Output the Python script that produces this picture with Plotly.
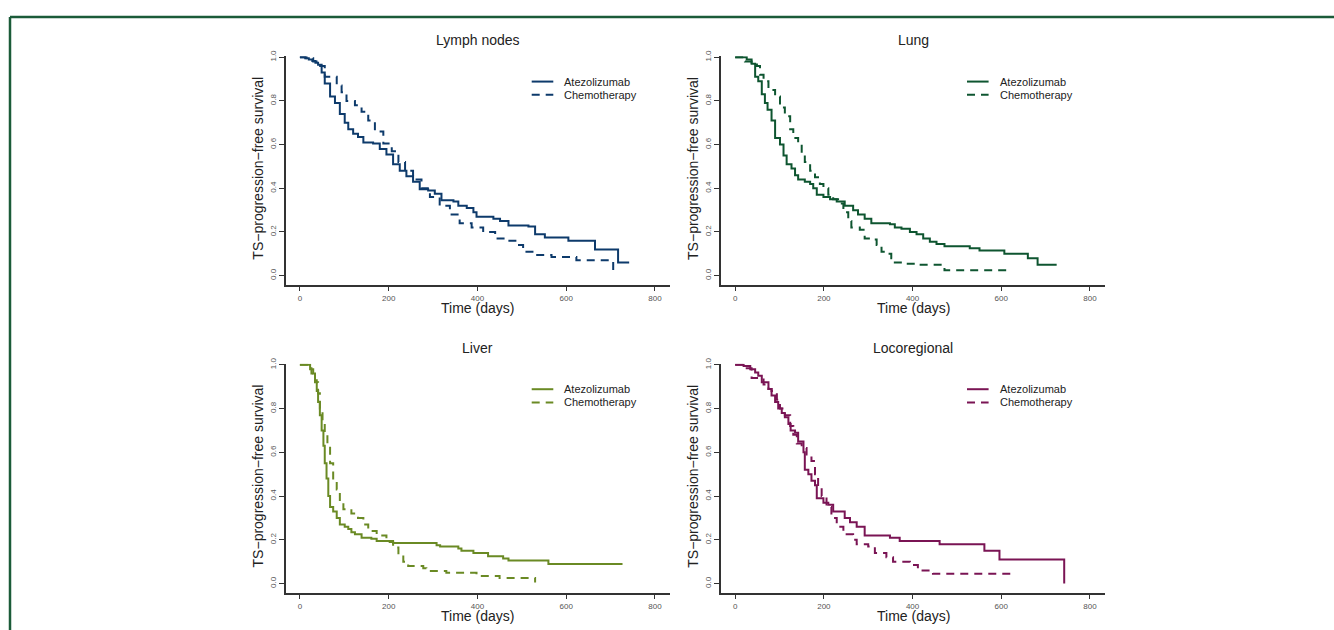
import plotly.graph_objects as go

# ---- Kaplan-Meier step data (time in days, survival after the step) ----
lymph_atezo_t = [0, 12, 20, 28, 35, 41, 49, 56, 68, 79, 90, 101, 109, 120, 131, 143, 165, 180, 195, 210, 225,
                 240, 255, 270, 289, 304, 319, 346, 357, 376, 391, 398, 436, 451, 470, 515, 530, 552, 605, 665,
                 717, 742]
lymph_atezo_s = [1.0, 0.995, 0.99, 0.983, 0.975, 0.965, 0.93, 0.88, 0.82, 0.79, 0.74, 0.70, 0.67, 0.65, 0.635,
                 0.61, 0.605, 0.58, 0.555, 0.51, 0.48, 0.455, 0.43, 0.395, 0.39, 0.375, 0.345, 0.34, 0.32, 0.31,
                 0.29, 0.27, 0.26, 0.25, 0.23, 0.225, 0.19, 0.175, 0.16, 0.12, 0.06, 0.06]
lymph_chemo_t = [0, 15, 30, 41, 56, 83, 94, 105, 124, 139, 154, 169, 188, 207, 222, 237, 255, 274, 293, 315,
                 338, 360, 387, 413, 440, 466, 488, 503, 530, 567, 623, 706]
lymph_chemo_s = [1.0, 0.995, 0.98, 0.96, 0.91, 0.87, 0.84, 0.80, 0.78, 0.75, 0.71, 0.66, 0.605, 0.57, 0.52,
                 0.48, 0.44, 0.40, 0.36, 0.32, 0.28, 0.24, 0.22, 0.20, 0.17, 0.16, 0.14, 0.11, 0.095, 0.085,
                 0.07, 0.0]

lung_atezo_t = [0, 26, 37, 45, 52, 60, 67, 73, 82, 90, 101, 109, 116, 127, 135, 142, 157, 169, 176, 184, 199,
                214, 229, 247, 266, 277, 292, 307, 349, 360, 375, 394, 409, 424, 439, 454, 472, 529, 551, 607,
                660, 682, 725]
lung_atezo_s = [1.0, 0.99, 0.97, 0.91, 0.89, 0.83, 0.79, 0.76, 0.71, 0.63, 0.60, 0.55, 0.51, 0.49, 0.46, 0.44,
                0.43, 0.42, 0.40, 0.37, 0.36, 0.35, 0.34, 0.32, 0.30, 0.28, 0.26, 0.24, 0.235, 0.22, 0.215,
                0.20, 0.19, 0.17, 0.155, 0.145, 0.135, 0.125, 0.115, 0.10, 0.08, 0.05, 0.05]
lung_chemo_t = [0, 22, 37, 49, 56, 64, 75, 90, 101, 112, 124, 131, 142, 150, 157, 169, 180, 191, 199, 210,
                221, 232, 244, 255, 262, 281, 292, 307, 319, 330, 345, 352, 360, 382, 409, 472, 615]
lung_chemo_s = [1.0, 0.98, 0.975, 0.96, 0.92, 0.89, 0.85, 0.82, 0.77, 0.73, 0.67, 0.63, 0.60, 0.56, 0.52,
                0.48, 0.45, 0.42, 0.40, 0.37, 0.35, 0.33, 0.29, 0.25, 0.22, 0.21, 0.17, 0.165, 0.14, 0.11,
                0.10, 0.08, 0.06, 0.055, 0.05, 0.025, 0.025]

liver_atezo_t = [0, 23, 30, 34, 38, 41, 45, 49, 53, 56, 60, 64, 68, 75, 83, 90, 101, 109, 116, 124, 139, 161,
                 173, 210, 308, 316, 357, 364, 391, 424, 458, 470, 560, 727]
liver_atezo_s = [1.0, 0.98, 0.96, 0.93, 0.88, 0.83, 0.77, 0.70, 0.63, 0.55, 0.48, 0.40, 0.35, 0.33, 0.30,
                 0.27, 0.26, 0.25, 0.235, 0.225, 0.21, 0.205, 0.195, 0.185, 0.175, 0.17, 0.16, 0.15, 0.14,
                 0.125, 0.115, 0.105, 0.09, 0.09]
liver_chemo_t = [0, 19, 26, 34, 41, 45, 51, 56, 62, 68, 75, 83, 90, 98, 116, 131, 143, 154, 173, 195, 210,
                 222, 233, 244, 278, 285, 330, 398, 450, 530]
liver_chemo_s = [1.0, 0.985, 0.96, 0.92, 0.87, 0.80, 0.74, 0.69, 0.64, 0.55, 0.47, 0.43, 0.37, 0.34, 0.32,
                 0.30, 0.27, 0.24, 0.22, 0.19, 0.165, 0.13, 0.10, 0.08, 0.07, 0.058, 0.05, 0.035, 0.025, 0.005]

loco_atezo_t = [0, 19, 34, 45, 52, 60, 75, 82, 90, 97, 105, 112, 120, 125, 135, 142, 154, 157, 165, 172, 180,
                184, 199, 210, 221, 247, 259, 274, 292, 349, 371, 461, 562, 596, 742]
loco_atezo_s = [1.0, 0.995, 0.98, 0.965, 0.95, 0.92, 0.89, 0.86, 0.83, 0.80, 0.78, 0.76, 0.73, 0.70, 0.69,
                0.65, 0.60, 0.52, 0.50, 0.47, 0.45, 0.39, 0.37, 0.36, 0.33, 0.30, 0.28, 0.26, 0.22, 0.21,
                0.195, 0.18, 0.15, 0.11, 0.0]
loco_chemo_t = [0, 19, 26, 37, 64, 75, 82, 94, 101, 112, 124, 131, 139, 150, 161, 172, 180, 187, 195, 206,
                217, 229, 244, 266, 274, 300, 315, 341, 356, 394, 412, 446, 626]
loco_chemo_s = [1.0, 0.995, 0.985, 0.94, 0.91, 0.89, 0.88, 0.84, 0.80, 0.77, 0.72, 0.68, 0.64, 0.62, 0.59,
                0.56, 0.50, 0.44, 0.40, 0.35, 0.30, 0.26, 0.225, 0.20, 0.18, 0.17, 0.14, 0.12, 0.10, 0.085,
                0.06, 0.045, 0.045]

panel_titles = ["Lymph nodes", "Lung", "Liver", "Locoregional"]
panel_colors = ["#0d3a6b", "#0e5530", "#6a8a24", "#7a1454"]
series_names = ["Atezolizumab", "Chemotherapy"]
x_ticks = [0, 200, 400, 600, 800]
y_ticks = [0.0, 0.2, 0.4, 0.6, 0.8, 1.0]

panels = [
    (lymph_atezo_t, lymph_atezo_s, lymph_chemo_t, lymph_chemo_s),
    (lung_atezo_t, lung_atezo_s, lung_chemo_t, lung_chemo_s),
    (liver_atezo_t, liver_atezo_s, liver_chemo_t, liver_chemo_s),
    (loco_atezo_t, loco_atezo_s, loco_chemo_t, loco_chemo_s),
]

W, H = 1334, 630
# pixel boxes of the plotting regions (left, right) and (top, bottom)
col_px = [(285.7, 670.0), (721.0, 1105.0)]
row_px = [(50.7, 281.3), (361.3, 592.2)]
X_RANGE = [-32, 834]
Y_RANGE = [-0.041, 1.0045]

DASH = "8px,6px"
AXIS_COL = "#333333"
TEXT_FONT = "Liberation Sans, Arial, sans-serif"
TICK_FONT = dict(family=TEXT_FONT, size=8, color="#555555")
LABEL_FONT = dict(family=TEXT_FONT, size=14, color="#222222")


def axis_style():
    return dict(showline=True, linecolor=AXIS_COL, linewidth=1.5, ticks="outside", ticklen=5,
                tickcolor=AXIS_COL, tickwidth=1.2, showgrid=False, zeroline=False, tickfont=TICK_FONT)


fig = go.Figure()
shapes = []
annotations = []

for i, (at, asv, ct, csv) in enumerate(panels):
    r, c = divmod(i, 2)
    n = i + 1
    xa = "x" if n == 1 else f"x{n}"
    ya = "y" if n == 1 else f"y{n}"
    color = panel_colors[i]

    fig.add_trace(go.Scatter(x=at, y=asv, mode="lines", line=dict(color=color, width=2, shape="hv"),
                             name=series_names[0], xaxis=xa, yaxis=ya, showlegend=False))
    fig.add_trace(go.Scatter(x=ct, y=csv, mode="lines", line=dict(color=color, width=2, shape="hv", dash=DASH),
                             name=series_names[1], xaxis=xa, yaxis=ya, showlegend=False))

    l, rr = col_px[c]
    t, b = row_px[r]
    xkey = "xaxis" if n == 1 else f"xaxis{n}"
    ykey = "yaxis" if n == 1 else f"yaxis{n}"
    fig.update_layout(**{
        xkey: dict(domain=[l / W, rr / W], range=X_RANGE, tickvals=x_ticks, anchor=ya, **axis_style()),
        ykey: dict(domain=[1 - b / H, 1 - t / H], range=Y_RANGE, tickvals=y_ticks, tickformat=".1f",
                   tickangle=-90, anchor=xa, **axis_style()),
    })

    cx = (l + rr) / 2
    # panel title
    annotations.append(dict(text=panel_titles[i], x=cx / W, y=1 - (t - 16) / H, xref="paper", yref="paper",
                            showarrow=False, xanchor="center", yanchor="middle", font=LABEL_FONT))
    # x-axis title
    annotations.append(dict(text="Time (days)", x=cx / W, y=1 - (b + 24) / H, xref="paper", yref="paper",
                            showarrow=False, xanchor="center", yanchor="middle", font=LABEL_FONT))
    # y-axis title
    annotations.append(dict(text="TS\u2212progression\u2212free survival", x=(l - 27.5) / W,
                            y=1 - ((t + b) / 2 - 2) / H, xref="paper", yref="paper", textangle=-90,
                            showarrow=False, xanchor="center", yanchor="middle", font=LABEL_FONT))

    # legend key
    lx0 = l + 246
    for k, (name, dash) in enumerate(zip(series_names, ["solid", DASH])):
        yy = t + 25.6 + k * 13.4
        shapes.append(dict(type="line", xref="paper", yref="paper", x0=lx0 / W, x1=(lx0 + 21.6) / W,
                           y0=1 - yy / H, y1=1 - yy / H, line=dict(color=color, width=2, dash=dash)))
        annotations.append(dict(text=name, x=(lx0 + 30.6) / W, y=1 - yy / H, xref="paper", yref="paper",
                                showarrow=False, xanchor="left", yanchor="middle",
                                font=dict(family=TEXT_FONT, size=11, color="#222222")))

# outer frame (top and left edges)
frame_col = "#1b5b39"
shapes.append(dict(type="line", xref="paper", yref="paper", x0=10 / W, x1=1.0, y0=1 - 11 / H, y1=1 - 11 / H,
                   line=dict(color=frame_col, width=2.5)))
shapes.append(dict(type="line", xref="paper", yref="paper", x0=10 / W, x1=10 / W, y0=0, y1=1 - 11 / H,
                   line=dict(color=frame_col, width=2.5)))

fig.update_layout(width=W, height=H, margin=dict(l=0, r=0, t=0, b=0, pad=0), autosize=False,
                  paper_bgcolor="white", plot_bgcolor="white", showlegend=False,
                  shapes=shapes, annotations=annotations)

fig.write_html("out.html")
